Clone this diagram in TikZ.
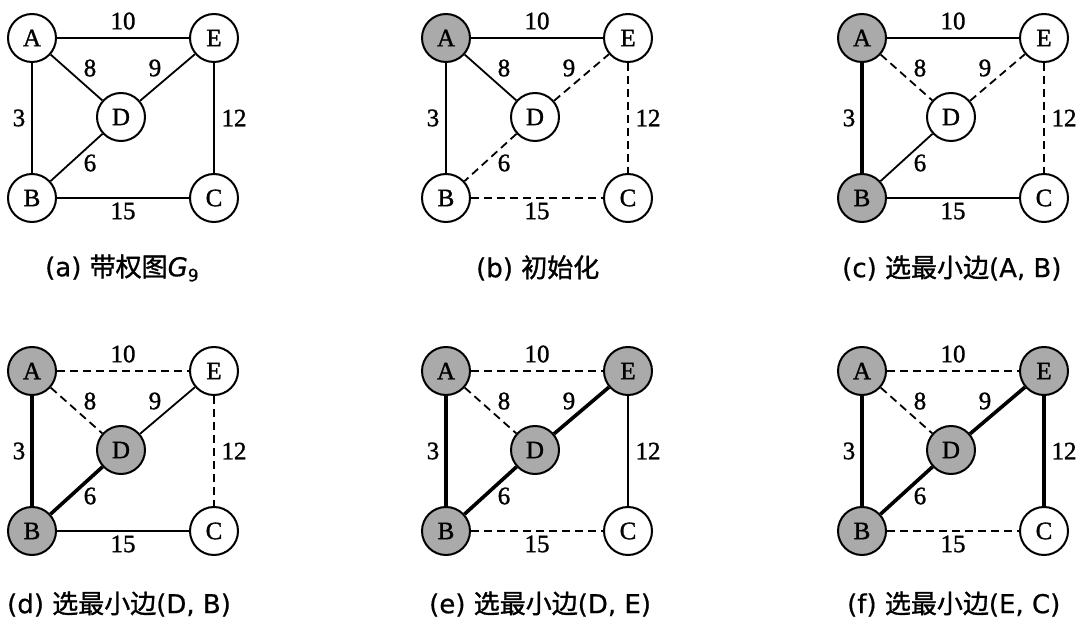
\documentclass[tikz,border=0pt]{standalone}
\usepackage{fontspec}
\setmainfont{Liberation Serif}
\newfontfamily\lblfont{Liberation Serif}[FakeBold=1.2]
\newfontfamily\cjk{Noto Sans CJK SC}[FakeBold=1.2]
\newfontfamily\capfont{DejaVu Sans}[FakeBold=0.6]
\definecolor{nodegray}{RGB}{170,170,170}
\tikzset{
  vtx/.style={circle,draw=black,line width=2pt,minimum size=48pt,inner sep=0pt,
    font=\fontsize{25}{25}\selectfont\lblfont},
  wlbl/.style={font=\fontsize{25}{25}\selectfont\lblfont,inner sep=0pt},
  plain/.style={line width=1.8pt},
  dsh/.style={line width=1.8pt,dash pattern=on 8pt off 5pt},
  tree/.style={line width=3.6pt},
  gfill/.style={fill=nodegray},
  fA/.style={fill=white}, fB/.style={fill=white}, fC/.style={fill=white},
  fD/.style={fill=white}, fE/.style={fill=white},
  eAE/.style={plain}, eAD/.style={plain}, eDE/.style={plain}, eAB/.style={plain},
  eEC/.style={plain}, eDB/.style={plain}, eBC/.style={plain},
  captxt/.style={anchor=west,inner sep=0pt,font=\fontsize{26}{26}\selectfont\capfont}
}
\newcommand\gpanel[3]{%
\begin{scope}[shift={#2},#3]
  \node[vtx,fA] (#1A) at (32,38) {A};
  \node[vtx,fE] (#1E) at (214,38) {E};
  \node[vtx,fD] (#1D) at (121,117) {D};
  \node[vtx,fB] (#1B) at (32,198) {B};
  \node[vtx,fC] (#1C) at (214,198) {C};
  \draw[eAE] (#1A) -- (#1E);
  \draw[eAD] (#1A) -- (#1D);
  \draw[eDE] (#1D) -- (#1E);
  \draw[eAB] (#1A) -- (#1B);
  \draw[eEC] (#1E) -- (#1C);
  \draw[eDB] (#1D) -- (#1B);
  \draw[eBC] (#1B) -- (#1C);
  \node[wlbl] (#1w10) at (123,21) {10};
  \node[wlbl] (#1w8) at (90,68) {8};
  \node[wlbl] (#1w9) at (155,68) {9};
  \node[wlbl] (#1w3) at (19,118) {3};
  \node[wlbl] (#1w12) at (234,118) {12};
  \node[wlbl] (#1w6) at (90,163) {6};
  \node[wlbl] (#1w15) at (123,211) {15};
\end{scope}}
\begin{document}
\begin{tikzpicture}[x=1pt,y=-1pt]
\useasboundingbox[fill=white] (0,0) rectangle (1088,628);
\gpanel{a}{(0,0)}{}
\gpanel{b}{(414,0)}{fA/.style={gfill},eDE/.style={dsh},eEC/.style={dsh},eDB/.style={dsh},eBC/.style={dsh}}
\gpanel{c}{(830,0)}{fA/.style={gfill},fB/.style={gfill},eAB/.style={tree},eAD/.style={dsh},eDE/.style={dsh},eEC/.style={dsh}}
\gpanel{d}{(0,333)}{fA/.style={gfill},fB/.style={gfill},fD/.style={gfill},eAB/.style={tree},eDB/.style={tree},eAE/.style={dsh},eAD/.style={dsh},eEC/.style={dsh}}
\gpanel{e}{(414,333)}{fA/.style={gfill},fB/.style={gfill},fD/.style={gfill},fE/.style={gfill},eAB/.style={tree},eDB/.style={tree},eDE/.style={tree},eAE/.style={dsh},eAD/.style={dsh},eBC/.style={dsh}}
\gpanel{f}{(830,333)}{fA/.style={gfill},fB/.style={gfill},fD/.style={gfill},fE/.style={gfill},eAB/.style={tree},eDB/.style={tree},eDE/.style={tree},eEC/.style={tree},eAE/.style={dsh},eAD/.style={dsh},eBC/.style={dsh}}
\node[captxt] (capa) at (45,268) {(a) {\cjk 带权图}\textit{G}\raisebox{-5pt}{\fontsize{17}{17}\selectfont 9}};
\node[captxt] (capb) at (476,268) {(b) {\cjk 初始化}};
\node[captxt] (capc) at (842,268) {(c) {\cjk 选最小边}(A, B)};
\node[captxt] (capd) at (7,604) {(d) {\cjk 选最小边}(D, B)};
\node[captxt] (cape) at (429,604) {(e) {\cjk 选最小边}(D, E)};
\node[captxt] (capf) at (847,604) {(f) {\cjk 选最小边}(E, C)};
\end{tikzpicture}
\end{document}
